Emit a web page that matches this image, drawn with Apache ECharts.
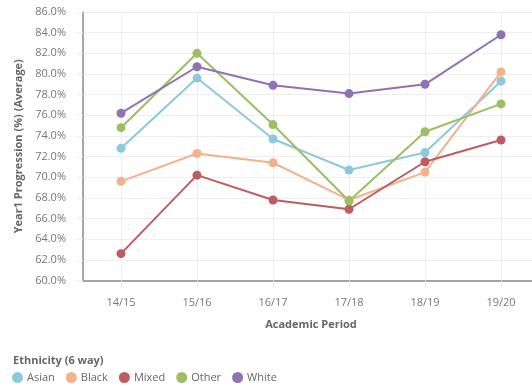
<!DOCTYPE html>
<html><head><meta charset="utf-8">
<script src="https://cdn.jsdelivr.net/npm/echarts@6/dist/echarts.min.js"></script>
<style>html,body{margin:0;padding:0;background:#fff}#c{width:532px;height:385px}</style>
</head><body><div id="c"></div>
<script>
const categories = ['14/15','15/16','16/17','17/18','18/19','19/20'];
const asian = [72.8, 79.6, 73.7, 70.7, 72.4, 79.3];
const black = [69.6, 72.3, 71.4, 67.8, 70.5, 80.2];
const mixed = [62.6, 70.2, 67.8, 66.9, 71.5, 73.6];
const other = [74.8, 82.0, 75.1, 67.7, 74.4, 77.1];
const white = [76.2, 80.7, 78.9, 78.1, 79.0, 83.8];
const seriesNames = ['Asian','Black','Mixed','Other','White'];
const seriesData = [asian, black, mixed, other, white];
const colors = ['#8dc8dc','#f3b28c','#bd5d60','#9bbf62','#9072b2'];
const font = '"Open Sans", "Noto Sans", sans-serif';

const chart = echarts.init(document.getElementById('c'), null, {renderer:'canvas'});
chart.setOption({
  animation: false,
  color: colors,
  textStyle: {fontFamily: font},
  title: {
    text: 'Ethnicity (6 way)', left: 8, top: 350,
    textStyle: {fontFamily: font, fontSize: 11, fontWeight: 'bold', color: '#666'}
  },
  legend: {
    left: 7, top: 367, icon: 'circle', itemWidth: 11, itemHeight: 11, itemGap: 11,
    textStyle: {fontFamily: font, fontSize: 11, color: '#666', padding: [0,0,0,-1]},
    data: seriesNames
  },
  grid: {left: 83, width: 456, top: 12, bottom: 104.5, containLabel: false, outerBoundsMode: 'none'},
  xAxis: {
    type: 'category', data: categories, boundaryGap: true,
    name: 'Academic Period', nameLocation: 'middle', nameGap: 39,
    nameTextStyle: {fontFamily: font, fontSize: 11, fontWeight: 'bold', color: '#666'},
    axisLine: {show: true, lineStyle: {color: '#8a8a8a', width: 1.5}},
    axisTick: {show: true, alignWithLabel: true, length: 8, lineStyle: {color: '#eaeaea'}},
    axisLabel: {fontFamily: font, fontSize: 11, color: '#777', margin: 17},
    splitLine: {show: true, alignWithLabel: true, lineStyle: {color: '#eeeeee'}}
  },
  yAxis: {
    type: 'value', min: 60, max: 86, interval: 2,
    name: 'Year1 Progression (%) (Average)', nameLocation: 'middle', nameGap: 57,
    nameTextStyle: {fontFamily: font, fontSize: 11, fontWeight: 'bold', color: '#666'},
    axisLine: {show: true, lineStyle: {color: '#8a8a8a', width: 1.5}},
    axisTick: {show: true, length: 6, lineStyle: {color: '#eeeeee'}},
    axisLabel: {fontFamily: font, fontSize: 11, color: '#777', margin: 17,
      formatter: v => v.toFixed(1) + '%'},
    splitLine: {show: true, lineStyle: {color: '#eeeeee'}}
  },
  series: seriesNames.map((n, i) => ({
    name: n, type: 'line', data: seriesData[i],
    symbol: 'circle', symbolSize: 9,
    lineStyle: {width: 2, color: colors[i]},
    itemStyle: {color: colors[i]}
  }))
});
</script></body></html>
